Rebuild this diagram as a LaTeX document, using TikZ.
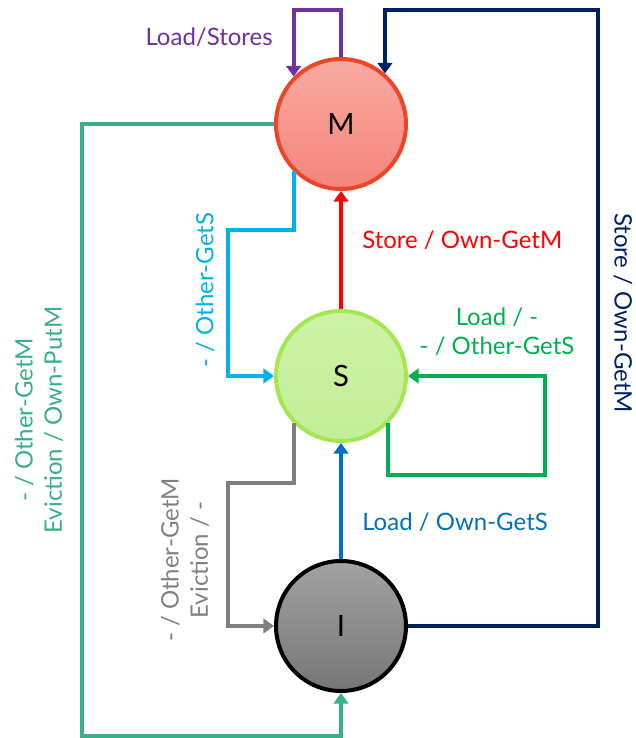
\documentclass[tikz,border=0pt]{standalone}
\usepackage{fontspec}
\setmainfont{Lato}
\usetikzlibrary{arrows.meta}

\definecolor{mline}{HTML}{EE4527}
\definecolor{mtop}{HTML}{F9A9A1}
\definecolor{mbot}{HTML}{F4857C}
\definecolor{sline}{HTML}{A5E653}
\definecolor{stop}{HTML}{CDF3A6}
\definecolor{sbot}{HTML}{C3EE98}
\definecolor{itop}{HTML}{A2A2A2}
\definecolor{ibot}{HTML}{767676}
\definecolor{cpurple}{HTML}{7030A0}
\definecolor{cnavy}{HTML}{002060}
\definecolor{cred}{HTML}{FF0000}
\definecolor{ccyan}{HTML}{00B0F0}
\definecolor{cgray}{HTML}{808080}
\definecolor{cgreen}{HTML}{00B050}
\definecolor{cblue}{HTML}{0070C0}
\definecolor{cteal}{HTML}{36AF8A}

\begin{document}
\begin{tikzpicture}[x=0.75pt,y=-0.75pt,
    state/.style={circle,line width=3pt,minimum size=97.5pt,inner sep=0pt,
      font=\fontsize{22}{26}\selectfont},
    trans/.style={line width=3pt,-{Triangle[length=8pt,width=11pt]}},
    lbl/.style={font=\fontsize{18}{22}\selectfont,align=center,inner sep=0pt}]
  \useasboundingbox (0,0) rectangle (635,738);

  % states
  \node[state,draw=mline,top color=mtop,bottom color=mbot] (M) at (341,124) {M};
  \node[state,draw=sline,top color=stop,bottom color=sbot] (S) at (341,376) {S};
  \node[state,draw=black,top color=itop,bottom color=ibot] (I) at (341,626) {I};

  % bends
  \coordinate (storeCorner) at (598,10);
  \coordinate (getsBend) at (228,230);
  \coordinate (evictBend) at (228,483);
  \coordinate (loadBend) at (545,475);
  \coordinate (putmBend) at (82,736);

  % transitions
  \draw[trans,cpurple] (M.north) -- ++(0,-47) -| (M.135);
  \draw[trans,cnavy] (I.east) -| (storeCorner) -| (M.49);
  \draw[trans,cred] (S.north) -- (M.south);
  \draw[trans,ccyan] (M.225) |- (getsBend) |- (S.west);
  \draw[trans,cgreen] (S.-45) |- (loadBend) |- (S.east);
  \draw[trans,cgray] (S.225) |- (evictBend) |- (I.west);
  \draw[trans,cblue] (I.north) -- (S.south);
  \draw[trans,cteal] (M.west) -| (putmBend) -| (I.south);

  % labels
  \node[lbl,cpurple,anchor=east] (lLoadStores) at (273,37) {Load/Stores};
  \node[lbl,cred,anchor=west] (lStoreS) at (362,240) {Store / Own-GetM};
  \node[lbl,cnavy,rotate=-90] (lStoreI) at (623,313) {Store / Own-GetM};
  \node[lbl,cgreen] (lLoadS) at (497,332) {Load / -\\- / Other-GetS};
  \node[lbl,ccyan,rotate=90] (lGetsM) at (205,290) {- / Other-GetS};
  \node[lbl,cblue,anchor=west] (lLoadI) at (362,522) {Load / Own-GetS};
  \node[lbl,cgray,rotate=90] (lEvictS) at (185,560) {- / Other-GetM\\Eviction / -};
  \node[lbl,cteal,rotate=90] (lEvictM) at (39,420) {- / Other-GetM\\Eviction / Own-PutM};
\end{tikzpicture}
\end{document}
